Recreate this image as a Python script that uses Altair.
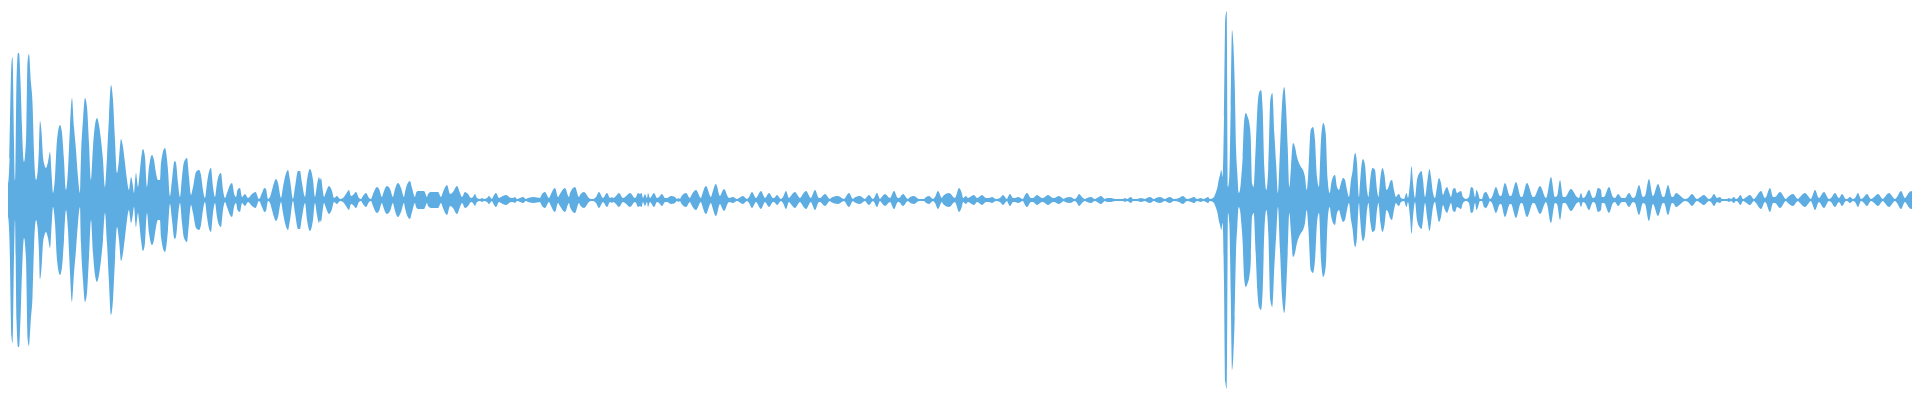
import altair as alt
import pandas as pd

# Envelope of the waveform: x position (samples, in reference pixel units) and half-amplitude
attack1_x = [0, 2.5, 5, 6.7, 8, 9.5, 11.5, 12.5, 14, 15, 16.5, 18, 19, 20.5, 22, 24, 26, 27.5, 29, 31,
             32.5, 34, 36, 37.5, 39, 40, 41.5, 43, 44.5, 46, 48, 50, 51.5, 53, 55, 57, 60, 62, 64, 66,
             68, 70, 72, 74, 76, 78, 80, 81, 83, 85, 87, 89, 91, 93, 95, 97, 99, 101, 103, 105,
             107, 109, 111, 113, 115, 117, 119, 121, 123, 125, 127, 129, 130, 131, 132.5, 134, 136, 138, 139, 141,
             143, 145, 147, 149, 152, 154, 156, 158]
attack1_amp = [22, 54, 27, 36, 17, 41, 137, 143, 57, 20, 120, 147, 147, 118, 72, 38, 60, 138, 146, 117,
               97, 47, 20, 27, 53, 79, 68, 43, 35, 32, 38, 48, 27, 7, 23, 60, 75, 67, 40, 10,
               30, 73, 102, 73, 50, 23, 7, 43, 80, 102, 93, 57, 20, 53, 75, 82, 75, 60, 40, 13,
               43, 83, 115, 100, 60, 27, 40, 61, 53, 37, 20, 10, 17, 23, 17, 7, 27, 13, 20, 40,
               51, 43, 13, 33, 45, 40, 27, 20]

decay1_x = [160, 161, 165, 168, 170, 172, 174.5, 176, 178, 180, 182, 184, 187, 189, 191, 193, 196, 199, 201, 203,
            205, 207, 209.5, 211, 213, 215, 217, 219, 221, 223, 225, 227, 230, 232, 234.5, 236, 237.5, 240, 242, 245,
            248, 252, 255.5, 259, 262, 264.5, 266, 268, 270, 272, 274, 276, 278, 281, 283, 285, 288, 290, 293, 295,
            298, 300, 302, 305, 307, 310, 313, 315, 317, 319]
decay1_amp = [20, 37, 52, 30, 4, 20, 39, 37, 17, 3, 23, 38, 42, 23, 5, 13, 28, 30, 25, 10,
              2, 17, 30, 32, 13, 3, 17, 25, 27, 10, 2, 7, 15, 17, 5, 3, 10, 12, 3, 6,
              2, 6, 8, 1, 7, 12, 11, 1, 3, 10, 17, 21, 17, 2, 13, 23, 30, 20, 1, 13,
              29, 29, 17, 3, 20, 31, 20, 3, 15, 23]

quiet1_x = [320, 321, 323, 324, 326, 329, 332, 334, 337, 340, 343, 346, 349, 351, 353, 356, 359, 361, 363, 366,
            369, 371, 373, 377, 379, 382, 383, 387, 390, 393, 394, 398, 401, 404, 405, 410, 412, 415, 416, 418,
            424, 427, 428, 431, 438, 441, 443, 447, 450, 453, 457, 460, 462, 465, 468, 471, 473, 475, 477, 480,
            482, 484, 487, 489, 492, 493, 496, 499, 501, 506, 511, 513, 515, 517, 520, 523, 526, 528, 534, 540,
            541, 545, 549, 551, 555, 558, 560, 565, 569, 570, 575, 579, 580, 584, 589, 591, 593, 596, 599, 603,
            604, 607, 610, 612, 613, 615, 619, 623, 625, 630, 635, 636, 638]
quiet1_amp = [20, 22, 8, 3, 8, 14, 9, 2, 4, 1, 2, 6, 10, 4, 5, 8, 2, 1, 4, 7,
              2, 1, 6, 13, 11, 3, 6, 14, 11, 3, 7, 17, 12, 3, 8, 19, 12, 3, 7, 9,
              9, 3, 6, 8, 8, 3, 8, 15, 6, 8, 14, 7, 3, 8, 6, 2, 3, 6, 2, 1,
              2, 1, 2, 4, 1, 3, 7, 2, 3, 5, 2, 2, 3, 1, 2, 3, 1, 2, 3, 2,
              4, 8, 2, 6, 12, 3, 6, 12, 3, 7, 13, 3, 5, 8, 2, 1, 1, 3, 8, 2,
              3, 7, 2, 3, 2, 3, 7, 2, 3, 7, 2, 3, 7]

quiet2_x = [640, 641.5, 643, 645, 647, 648, 650, 651, 654, 657, 659, 662, 665, 667, 671, 675, 677, 678.5, 680, 681,
            686, 690, 691, 696, 701, 702, 706, 711, 712, 716, 720, 722, 724, 729, 733, 737, 739, 743, 747, 749,
            752, 756, 757, 761, 765, 766, 769, 773, 774, 777, 781, 783, 786, 789, 790, 795, 800, 801, 806, 811,
            812, 815, 819, 820, 825, 830, 831, 838, 844, 845, 849, 853, 854, 860, 865, 866, 869, 873, 874, 877,
            880, 881, 885, 890, 894, 898, 899, 903, 908, 909, 914, 919, 924, 925, 929, 933, 935, 938, 942, 943,
            949, 955, 956, 959, 962]
quiet2_amp = [6, 7, 2, 6, 2, 7, 2, 3, 7, 2, 3, 6, 2, 2, 4, 3, 1, 2, 1, 3,
              7, 2, 4, 10, 2, 5, 14, 3, 6, 16, 4, 8, 11, 2, 3, 1, 2, 4, 1, 3,
              8, 2, 3, 9, 2, 3, 7, 2, 2, 5, 1, 3, 9, 2, 3, 8, 2, 3, 9, 2,
              4, 10, 2, 2, 6, 1, 2, 4, 1, 2, 7, 1, 2, 4, 1, 2, 5, 1, 2, 7,
              1, 2, 6, 2, 9, 2, 2, 6, 1, 2, 4, 1, 1, 2, 4, 1, 3, 9, 2, 4,
              7, 2, 4, 12, 6]

quiet3_x = [963, 966, 968, 970, 974, 977, 979, 982, 986, 989, 992, 996, 1000, 1003, 1007, 1008, 1010, 1013, 1015, 1018,
            1023, 1024, 1027, 1031, 1033, 1037, 1042, 1043, 1048, 1053, 1054, 1059, 1064, 1065, 1070, 1075, 1077, 1079, 1083, 1085,
            1087, 1091, 1095, 1097, 1101, 1105, 1107, 1111, 1115, 1123, 1125, 1127, 1129, 1131, 1133, 1137, 1141, 1145, 1147, 1150,
            1154, 1156, 1160, 1165, 1167, 1170, 1174, 1179, 1183, 1187, 1191, 1194, 1197, 1201, 1203, 1206, 1208, 1210, 1213]
quiet3_amp = [2, 4, 2, 3, 5, 2, 3, 5, 2, 2, 3, 1, 2, 5, 1, 3, 6, 2, 2, 3,
              1, 3, 7, 2, 2, 5, 2, 2, 5, 2, 2, 4, 1, 2, 3, 1, 3, 6, 2, 1,
              2, 3, 1, 2, 4, 1, 2, 2, 1, 1, 2, 1, 2, 3, 1, 1, 2, 1, 2, 3,
              1, 2, 3, 1, 2, 3, 1, 2, 4, 1, 2, 3, 1, 2, 1, 2, 3, 1, 2]

attack2_x = [1214, 1216, 1217.5, 1218.7, 1220, 1221.3, 1222.7, 1224, 1225.3, 1226.7, 1228, 1229.3, 1230.7, 1232, 1233.3, 1234.7, 1236, 1237.3, 1238.7, 1240,
             1241.3, 1242.7, 1244, 1245.7, 1247.7, 1249.3, 1250.7, 1252, 1253.7, 1255.7, 1257.3, 1259, 1261, 1262.7, 1264.3, 1266.3, 1268.3, 1270.3, 1272.3, 1274.3,
             1276.3, 1278, 1280, 1282.3, 1284.3, 1286, 1287.7, 1289.3, 1291, 1293, 1295, 1297, 1299, 1301, 1303, 1305, 1306.7, 1308.3, 1310.7, 1313,
             1315, 1317, 1319, 1321, 1323.3, 1325.7, 1327.7, 1329.7, 1331.3, 1333, 1335, 1337, 1339, 1341, 1343, 1345, 1347, 1349, 1351, 1352.7,
             1354, 1355.3, 1357, 1359]
attack2_amp = [3, 8, 13, 20, 25, 30, 23, 83, 182, 189, 13, 23, 93, 170, 157, 117, 53, 27, 7, 10,
               23, 43, 77, 87, 83, 77, 63, 17, 13, 53, 90, 107, 110, 90, 33, 10, 33, 100, 107, 67,
               33, 7, 50, 100, 113, 93, 53, 13, 33, 57, 53, 43, 37, 33, 30, 23, 10, 27, 70, 73,
               60, 23, 13, 60, 77, 67, 20, 7, 17, 23, 25, 13, 10, 17, 22, 20, 10, 3, 20, 30,
               43, 47, 37, 3]

decay2_x = [1360, 1361.5, 1363, 1365, 1367, 1368.5, 1370.5, 1372.5, 1375, 1377, 1378.5, 1380.5, 1382.5, 1384.5, 1386.5, 1388.5, 1390, 1392, 1394, 1396,
            1397.5, 1399, 1401, 1404, 1406.5, 1408, 1410, 1411.5, 1413, 1415, 1417, 1419.5, 1421.5, 1423, 1425, 1427.5, 1429.5, 1431, 1433, 1435,
            1437, 1439, 1441, 1443, 1445, 1447, 1449, 1451, 1453, 1455, 1457, 1459, 1461, 1463, 1466, 1469, 1471, 1473, 1475, 1476.5,
            1478, 1480, 1482, 1484, 1486, 1488, 1490, 1492, 1496, 1500, 1501, 1505, 1510, 1511, 1516, 1521, 1522, 1527, 1533, 1534,
            1540, 1546, 1547, 1551, 1555, 1557, 1560, 1563, 1565, 1571, 1577, 1579, 1581, 1583, 1585, 1589, 1593, 1595, 1598]
decay2_amp = [17, 35, 41, 35, 10, 3, 23, 32, 30, 10, 3, 23, 32, 25, 10, 13, 18, 20, 10, 3,
              5, 6, 2, 1, 7, 2, 17, 34, 17, 2, 20, 27, 29, 20, 3, 20, 31, 23, 7, 2,
              13, 22, 17, 5, 10, 13, 8, 3, 11, 12, 7, 8, 9, 3, 1, 3, 13, 12, 3, 10,
              7, 1, 1, 7, 8, 5, 1, 3, 13, 4, 4, 17, 4, 4, 18, 3, 3, 17, 3, 3,
              14, 2, 4, 23, 3, 4, 20, 3, 3, 11, 3, 2, 7, 2, 3, 10, 2, 3, 12]

quiet4_x = [1601, 1602, 1604, 1609, 1613, 1615, 1618, 1622, 1625, 1629, 1633, 1635, 1639, 1643, 1645, 1649, 1653, 1658, 1663, 1664,
            1668, 1672, 1673, 1676, 1685, 1688, 1692, 1697, 1699, 1704, 1709, 1711, 1714, 1717, 1720, 1722, 1727, 1729, 1731, 1734,
            1736, 1738, 1740.5, 1743, 1745, 1750, 1754, 1756, 1761, 1765, 1766, 1770, 1773, 1775, 1780, 1786, 1787, 1793, 1798, 1799,
            1805, 1811, 1812, 1815, 1819, 1820, 1824, 1829, 1831, 1835, 1839, 1842, 1846, 1847, 1850, 1853, 1855, 1858, 1861, 1863,
            1867, 1871, 1873, 1878, 1883, 1884, 1889, 1895, 1897, 1901, 1905, 1906, 1911, 1917, 1918, 1920]
quiet4_amp = [10, 3, 3, 13, 3, 2, 6, 2, 2, 7, 2, 3, 15, 3, 4, 21, 4, 16, 3, 3,
              15, 3, 3, 7, 1, 2, 6, 1, 2, 5, 1, 2, 6, 2, 3, 1, 1, 2, 1, 3,
              1, 2, 5, 1, 2, 5, 1, 3, 9, 2, 3, 12, 3, 3, 8, 1, 2, 6, 1, 2,
              7, 1, 3, 10, 2, 3, 8, 1, 2, 7, 2, 6, 1, 1, 3, 1, 2, 7, 1, 2,
              6, 1, 2, 6, 1, 2, 7, 1, 3, 9, 2, 3, 9, 2, 4, 5]

xs = (attack1_x + decay1_x + quiet1_x + quiet2_x + quiet3_x + attack2_x + decay2_x + quiet4_x)
amps = (attack1_amp + decay1_amp + quiet1_amp + quiet2_amp + quiet3_amp + attack2_amp + decay2_amp + quiet4_amp)

df = pd.DataFrame({"x": xs, "amp": amps})
df = df.drop_duplicates("x").sort_values("x").reset_index(drop=True)
df["top"] = df["amp"]
df["bottom"] = -df["amp"]

chart = alt.Chart(df).mark_area(
    interpolate="monotone", color="#5DADE2", clip=True, opacity=1
).encode(
    x=alt.X("x:Q", scale=alt.Scale(domain=[8, 1912], nice=False, zero=False), axis=None),
    y=alt.Y("top:Q", scale=alt.Scale(domain=[-192, 192], nice=False, zero=False), axis=None),
    y2="bottom:Q",
).properties(
    width=1904, height=384, padding=0,
    autosize=alt.AutoSizeParams(type="fit", contains="padding"),
).configure_view(stroke=None)

chart.save("out.html", embed_options={"renderer": "svg", "actions": False})
